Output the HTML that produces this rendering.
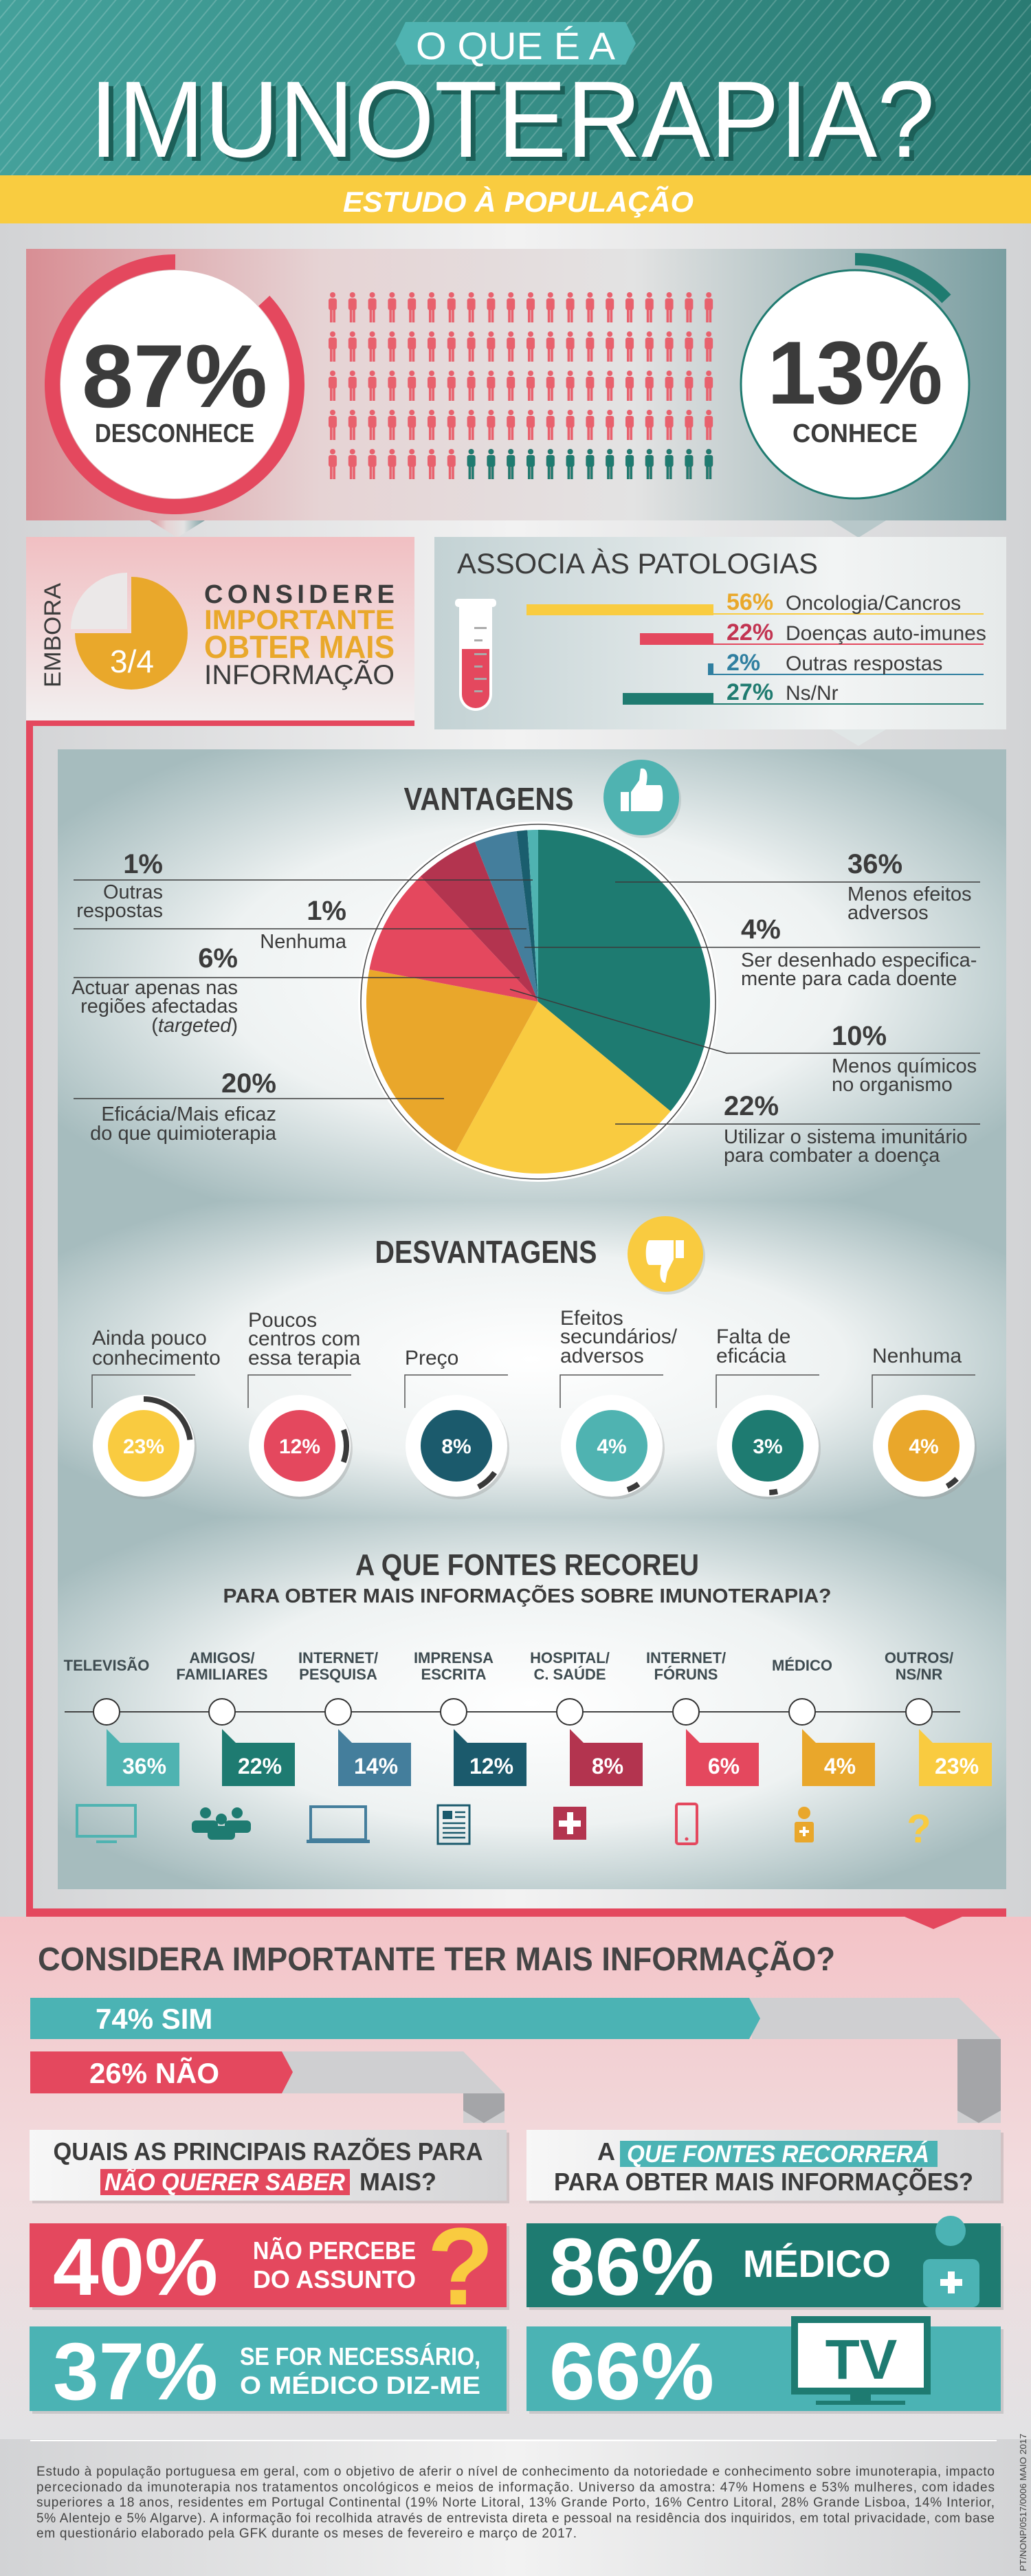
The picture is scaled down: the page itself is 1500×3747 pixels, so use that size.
<!DOCTYPE html>
<html><head><meta charset="utf-8"><style>
html,body{margin:0;padding:0;background:#dcdcdc}
svg{display:block}
text{font-family:"Liberation Sans",sans-serif}
.n{font-family:"Liberation Sans Narrow","Liberation Sans",sans-serif}
</style></head><body>
<svg width="1500" height="3747" viewBox="0 0 1500 3747" xmlns="http://www.w3.org/2000/svg">
<defs>
<linearGradient id="bg" x1="0" y1="0" x2="1" y2="0"><stop offset="0" stop-color="#d2d3d5"/><stop offset=".5" stop-color="#f2f2f2"/><stop offset="1" stop-color="#d2d3d5"/></linearGradient>
<linearGradient id="hdr" x1="0" y1="0" x2="1" y2="0"><stop offset="0" stop-color="#44a19b"/><stop offset="1" stop-color="#2a7b73"/></linearGradient>
<pattern id="stripes" width="16" height="16" patternUnits="userSpaceOnUse" patternTransform="rotate(40)"><rect width="16" height="16" fill="none"/><rect x="0" y="0" width="2" height="16" fill="#ffffff" opacity=".18"/></pattern>
<linearGradient id="p1" x1="0" y1="0" x2="1" y2="0"><stop offset="0" stop-color="#d88e94"/><stop offset=".3" stop-color="#e6d3d4"/><stop offset=".62" stop-color="#e3e3e3"/><stop offset="1" stop-color="#7a9ea1"/></linearGradient>
<linearGradient id="p2l" x1="0" y1="0" x2="0" y2="1"><stop offset="0" stop-color="#f1bfc2"/><stop offset="1" stop-color="#f2f0f0"/></linearGradient>
<linearGradient id="p2r" x1="0" y1="0" x2="1" y2="0"><stop offset="0" stop-color="#c3d2d4"/><stop offset=".7" stop-color="#f2f4f4"/><stop offset="1" stop-color="#e6eaea"/></linearGradient>
<radialGradient id="rg" cx=".5" cy=".5" r=".6"><stop offset="0" stop-color="#ffffff"/><stop offset=".55" stop-color="#eef2f2"/><stop offset="1" stop-color="#a6bcbe"/></radialGradient>
<linearGradient id="pinkbot" x1="0" y1="0" x2="0" y2="1"><stop offset="0" stop-color="#f3c3c7"/><stop offset=".5" stop-color="#f2dcde"/><stop offset="1" stop-color="#e2e2e4"/></linearGradient>
<linearGradient id="qbox" x1="0" y1="0" x2="1" y2="0"><stop offset="0" stop-color="#f7f7f7"/><stop offset="1" stop-color="#d4d4d6"/></linearGradient>
<pattern id="ppink" x="476" y="425" width="28.8" height="57" patternUnits="userSpaceOnUse"><circle cx="8" cy="4" r="4" fill="#e8616d"/><rect x="2" y="9" width="12" height="17" rx="3" fill="#e8616d"/><rect x="4" y="22" width="3.6" height="22" fill="#e8616d"/><rect x="8.4" y="22" width="3.6" height="22" fill="#e8616d"/></pattern>
<pattern id="pteal" x="476" y="425" width="28.8" height="57" patternUnits="userSpaceOnUse"><circle cx="8" cy="4" r="4" fill="#1f7b70"/><rect x="2" y="9" width="12" height="17" rx="3" fill="#1f7b70"/><rect x="4" y="22" width="3.6" height="22" fill="#1f7b70"/><rect x="8.4" y="22" width="3.6" height="22" fill="#1f7b70"/></pattern>
</defs>

<!-- page bg -->
<rect width="1500" height="3747" fill="url(#bg)"/>

<!-- HEADER -->
<rect x="0" y="0" width="1500" height="255" fill="url(#hdr)"/>
<rect x="0" y="0" width="1500" height="255" fill="url(#stripes)"/>
<rect x="0" y="255" width="1500" height="70" fill="#f9cc40"/>
<polygon points="590,32 910,32 925,63 910,94 590,94 575,63" fill="#4fb3b1"/>
<text x="750" y="86" text-anchor="middle" font-size="56" fill="#fff" class="n" textLength="290" lengthAdjust="spacingAndGlyphs">O QUE É A</text>
<text x="137" y="234" font-size="158" fill="#1c5f58" class="n" textLength="1230" lengthAdjust="spacingAndGlyphs">IMUNOTERAPIA?</text>
<text x="130" y="228" font-size="158" fill="#fff" class="n" textLength="1230" lengthAdjust="spacingAndGlyphs">IMUNOTERAPIA?</text>
<text x="754" y="308" text-anchor="middle" font-size="42" font-style="italic" font-weight="bold" fill="#fff" textLength="510" lengthAdjust="spacingAndGlyphs">ESTUDO À POPULAÇÃO</text>

<!-- PANEL 1 -->
<rect x="38" y="362" width="1426" height="395" fill="url(#p1)"/>
<polygon points="218,757 298,757 258,782" fill="url(#p1)"/>
<polygon points="1209,757 1289,757 1249,782" fill="#b8c8ca"/>
<circle cx="254" cy="559" r="178" fill="none" stroke="#e4485e" stroke-width="22" stroke-dasharray="973 2000" transform="rotate(-43 254 559)"/>
<circle cx="254" cy="559" r="166" fill="#fff"/>
<text x="254" y="592" text-anchor="middle" font-size="130" font-weight="bold" fill="#3b3b3b" textLength="270" lengthAdjust="spacingAndGlyphs">87%</text>
<text x="254" y="643" text-anchor="middle" font-size="38" font-weight="bold" fill="#3b3b3b" class="n" textLength="232" lengthAdjust="spacingAndGlyphs">DESCONHECE</text>
<circle cx="1244" cy="559" r="166" fill="#fff" stroke="#1f7b70" stroke-width="3"/>
<circle cx="1244" cy="559" r="182" fill="none" stroke="#1f7b70" stroke-width="18" stroke-dasharray="149 2000" transform="rotate(-90 1244 559)"/>
<text x="1244" y="587" text-anchor="middle" font-size="130" font-weight="bold" fill="#3b3b3b" textLength="255" lengthAdjust="spacingAndGlyphs">13%</text>
<text x="1244" y="643" text-anchor="middle" font-size="38" font-weight="bold" fill="#3b3b3b" class="n" textLength="182" lengthAdjust="spacingAndGlyphs">CONHECE</text>
<rect x="476" y="425" width="576" height="285" fill="url(#ppink)"/>
<rect x="677.6" y="653" width="374.4" height="57" fill="#e1e1e1" opacity="0"/>
<rect x="677.6" y="653" width="374.4" height="57" fill="url(#pteal)"/>

<!-- PANEL 2 LEFT -->
<rect x="38" y="781" width="565" height="270" fill="url(#p2l)"/>
<rect x="38" y="1048" width="565" height="8" fill="#e4485e"/>
<rect x="38" y="1048" width="10" height="1740" fill="#e4485e"/>
<text transform="translate(88 1000) rotate(-90)" font-size="34" fill="#3b3b3b" class="n" textLength="152" lengthAdjust="spacingAndGlyphs">EMBORA</text>
<path d="M191,921 L191,839 A82,82 0 1,1 109,921 Z" fill="#e9a82b"/>
<path d="M185,915 L103,915 A82,82 0 0,1 185,833 Z" fill="#ebe8e8"/>
<text x="192" y="978" text-anchor="middle" font-size="46" fill="#fff" class="n">3/4</text>
<text x="297" y="877" font-size="38" font-weight="bold" fill="#3b3b3b" textLength="277" lengthAdjust="spacing">CONSIDERE</text>
<text x="297" y="915" font-size="40" font-weight="bold" fill="#e9a82b" class="n" textLength="277" lengthAdjust="spacingAndGlyphs">IMPORTANTE</text>
<text x="297" y="957" font-size="46" font-weight="bold" fill="#e9a82b" class="n" textLength="277" lengthAdjust="spacingAndGlyphs">OBTER MAIS</text>
<text x="297" y="995" font-size="40" fill="#3b3b3b" class="n" textLength="277" lengthAdjust="spacingAndGlyphs">INFORMAÇÃO</text>

<!-- PANEL 2 RIGHT -->
<rect x="632" y="781" width="832" height="280" fill="url(#p2r)"/>
<polygon points="1209,1061 1289,1061 1249,1085" fill="#e0e6e6"/>
<text x="665" y="834" font-size="42" fill="#3b3b3b" class="n" textLength="525" lengthAdjust="spacingAndGlyphs">ASSOCIA ÀS PATOLOGIAS</text>
<rect x="662" y="871" width="60" height="12" rx="5" fill="#fff"/>
<path d="M668,880 L716,880 L716,1010 A24,24 0 0 1 668,1010 Z" fill="#fff"/>
<path d="M672,944 L712,944 L712,1010 A20,20 0 0 1 672,1010 Z" fill="#e4485e"/>
<g fill="#aaa"><rect x="690" y="912" width="18" height="3"/><rect x="690" y="930" width="12" height="3"/><rect x="690" y="950" width="18" height="3"/><rect x="690" y="968" width="12" height="3"/><rect x="690" y="986" width="18" height="3"/><rect x="690" y="1004" width="12" height="3"/></g>
<rect x="766" y="879" width="272" height="16" fill="#f9cc40"/>
<rect x="931" y="921" width="107" height="17" fill="#e4485e"/>
<rect x="1030" y="965" width="8" height="17" fill="#2f7fa0"/>
<rect x="906" y="1008" width="132" height="17" fill="#1f7b70"/>
<g stroke-width="2"><line x1="1038" y1="893" x2="1431" y2="893" stroke="#f9cc40"/><line x1="1038" y1="937" x2="1431" y2="937" stroke="#e4485e"/><line x1="1038" y1="981" x2="1431" y2="981" stroke="#2f7fa0"/><line x1="1038" y1="1024" x2="1431" y2="1024" stroke="#1f7b70"/></g>
<g font-size="34" class="n" font-weight="bold"><text x="1057" y="887" fill="#e9a82b">56%</text><text x="1057" y="931" fill="#c23451">22%</text><text x="1057" y="975" fill="#2f7fa0">2%</text><text x="1057" y="1018" fill="#1f7b70">27%</text></g>
<g font-size="30" class="n" fill="#3b3b3b"><text x="1143" y="887">Oncologia/Cancros</text><text x="1143" y="931">Doenças auto-imunes</text><text x="1143" y="975">Outras respostas</text><text x="1143" y="1018">Ns/Nr</text></g>

<!-- VANTAGENS -->
<rect x="84" y="1090" width="1380" height="657" fill="url(#rg)"/>
<text x="711" y="1178" text-anchor="middle" font-size="46" font-weight="bold" fill="#3b3b3b" class="n" textLength="247" lengthAdjust="spacingAndGlyphs">VANTAGENS</text>
<circle cx="936" cy="1164" r="55" fill="#9aa" opacity=".35"/>
<circle cx="933" cy="1160" r="55" fill="#4fb3b1"/>
<rect x="903" y="1152" width="12" height="28" fill="#fff"/>
<path d="M918,1152 L930,1135 L932,1118 C940,1116 944,1124 940,1142 L960,1142 C966,1142 966,1180 958,1180 L918,1180 Z" fill="#fff"/>
<circle cx="783" cy="1457" r="262" fill="#fff"/>
<circle cx="783" cy="1457" r="258" fill="none" stroke="#444" stroke-width="1.5"/>
<path d="M783,1457 L783,1207 A250,250 0 0 1 975.6,1616.4 Z" fill="#1e7b71"/>
<path d="M783,1457 L975.6,1616.4 A250,250 0 0 1 662.6,1676.1 Z" fill="#f9cb40"/>
<path d="M783,1457 L662.6,1676.1 A250,250 0 0 1 537.4,1410.2 Z" fill="#e9a72b"/>
<path d="M783,1457 L537.4,1410.2 A250,250 0 0 1 611.9,1274.8 Z" fill="#e4485e"/>
<path d="M783,1457 L611.9,1274.8 A250,250 0 0 1 691,1224.6 Z" fill="#b3344f"/>
<path d="M783,1457 L691,1224.6 A250,250 0 0 1 751.7,1209 Z" fill="#447e9c"/>
<path d="M783,1457 L751.7,1209 A250,250 0 0 1 767.3,1207.5 Z" fill="#1a5e6e"/>
<path d="M783,1457 L767.3,1207.5 A250,250 0 0 1 783,1207 Z" fill="#4fb3b1"/>
<g stroke="#3b3b3b" stroke-width="1.5" fill="none">
<line x1="107" y1="1280" x2="775" y2="1280"/><line x1="107" y1="1351" x2="766" y2="1351"/><line x1="107" y1="1422" x2="756" y2="1422"/><line x1="107" y1="1598" x2="646" y2="1598"/>
<line x1="895" y1="1283" x2="1426" y2="1283"/><line x1="763" y1="1378" x2="1426" y2="1378"/><polyline points="742,1439 1057,1532 1426,1532"/><line x1="895" y1="1635" x2="1426" y2="1635"/>
</g>
<g fill="#3b3b3b" class="n">
<g font-size="40" font-weight="bold" text-anchor="end"><text x="237" y="1270">1%</text><text x="504" y="1338">1%</text><text x="346" y="1407">6%</text><text x="402" y="1589">20%</text></g>
<g font-size="29" text-anchor="end"><text x="237" y="1307">Outras</text><text x="237" y="1334">respostas</text><text x="504" y="1379">Nenhuma</text><text x="346" y="1446">Actuar apenas nas</text><text x="346" y="1473">regiões afectadas</text><text x="346" y="1501">(<tspan font-style="italic">targeted</tspan>)</text><text x="402" y="1630">Eficácia/Mais eficaz</text><text x="402" y="1658">do que quimioterapia</text></g>
<g font-size="40" font-weight="bold"><text x="1233" y="1270">36%</text><text x="1078" y="1365">4%</text><text x="1210" y="1520">10%</text><text x="1053" y="1622">22%</text></g>
<g font-size="29"><text x="1233" y="1310">Menos efeitos</text><text x="1233" y="1337">adversos</text><text x="1078" y="1406">Ser desenhado especifica-</text><text x="1078" y="1433">mente para cada doente</text><text x="1210" y="1560">Menos químicos</text><text x="1210" y="1587">no organismo</text><text x="1053" y="1663">Utilizar o sistema imunitário</text><text x="1053" y="1690">para combater a doença</text></g>
</g>

<!-- DESVANTAGENS -->
<rect x="84" y="1747" width="1380" height="460" fill="url(#rg)"/>
<text x="707" y="1837" text-anchor="middle" font-size="46" font-weight="bold" fill="#3b3b3b" class="n" textLength="323" lengthAdjust="spacingAndGlyphs">DESVANTAGENS</text>
<circle cx="971" cy="1828" r="55" fill="#9aa" opacity=".35"/>
<circle cx="968" cy="1824" r="55" fill="#f9cb40"/>
<rect x="983" y="1804" width="12" height="26" fill="#fff"/>
<path d="M980,1804 L945,1804 C938,1804 938,1840 945,1840 L962,1840 C958,1856 962,1866 968,1866 L971,1850 L980,1832 Z" fill="#fff"/>
<g fill="#3b3b3b" font-size="30" class="n">
<text x="134" y="1956">Ainda pouco</text><text x="134" y="1985">conhecimento</text>
<text x="361" y="1930">Poucos</text><text x="361" y="1957">centros com</text><text x="361" y="1985">essa terapia</text>
<text x="589" y="1985">Preço</text>
<text x="815" y="1927">Efeitos</text><text x="815" y="1954">secundários/</text><text x="815" y="1982">adversos</text>
<text x="1042" y="1954">Falta de</text><text x="1042" y="1982">eficácia</text>
<text x="1269" y="1982">Nenhuma</text>
</g>
<g stroke="#555" stroke-width="1.5" fill="none">
<polyline points="134,2048 134,2000 284,2000"/><polyline points="361,2048 361,2000 511,2000"/><polyline points="589,2048 589,2000 739,2000"/><polyline points="815,2048 815,2000 965,2000"/><polyline points="1042,2048 1042,2000 1192,2000"/><polyline points="1269,2048 1269,2000 1419,2000"/>
</g>
<g>
<circle cx="212" cy="2107" r="74" fill="#999" opacity=".35"/><circle cx="209" cy="2103" r="74" fill="#fff"/><circle cx="209" cy="2103" r="52" fill="#f9cb40"/><circle cx="209" cy="2103" r="68" fill="none" stroke="#3a3a3a" stroke-width="8" stroke-dasharray="98 1000" transform="rotate(-90 209 2103)"/>
<circle cx="439" cy="2107" r="74" fill="#999" opacity=".35"/><circle cx="436" cy="2103" r="74" fill="#fff"/><circle cx="436" cy="2103" r="52" fill="#e4485e"/><circle cx="436" cy="2103" r="68" fill="none" stroke="#3a3a3a" stroke-width="8" stroke-dasharray="48 1000" transform="rotate(-20 436 2103)"/>
<circle cx="667" cy="2107" r="74" fill="#999" opacity=".35"/><circle cx="664" cy="2103" r="74" fill="#fff"/><circle cx="664" cy="2103" r="52" fill="#1b5a6c"/><circle cx="664" cy="2103" r="68" fill="none" stroke="#3a3a3a" stroke-width="8" stroke-dasharray="32 1000" transform="rotate(35 664 2103)"/>
<circle cx="893" cy="2107" r="74" fill="#999" opacity=".35"/><circle cx="890" cy="2103" r="74" fill="#fff"/><circle cx="890" cy="2103" r="52" fill="#4fb3b1"/><circle cx="890" cy="2103" r="68" fill="none" stroke="#3a3a3a" stroke-width="8" stroke-dasharray="18 1000" transform="rotate(55 890 2103)"/>
<circle cx="1120" cy="2107" r="74" fill="#999" opacity=".35"/><circle cx="1117" cy="2103" r="74" fill="#fff"/><circle cx="1117" cy="2103" r="52" fill="#1e7b71"/><circle cx="1117" cy="2103" r="68" fill="none" stroke="#3a3a3a" stroke-width="8" stroke-dasharray="12 1000" transform="rotate(78 1117 2103)"/>
<circle cx="1347" cy="2107" r="74" fill="#999" opacity=".35"/><circle cx="1344" cy="2103" r="74" fill="#fff"/><circle cx="1344" cy="2103" r="52" fill="#e9a72b"/><circle cx="1344" cy="2103" r="68" fill="none" stroke="#3a3a3a" stroke-width="8" stroke-dasharray="18 1000" transform="rotate(45 1344 2103)"/>
</g>
<g fill="#fff" font-size="30" font-weight="bold" text-anchor="middle" class="n"><text x="209" y="2114">23%</text><text x="436" y="2114">12%</text><text x="664" y="2114">8%</text><text x="890" y="2114">4%</text><text x="1117" y="2114">3%</text><text x="1344" y="2114">4%</text></g>

<!-- FONTES -->
<rect x="84" y="2207" width="1380" height="541" fill="url(#rg)"/>
<text x="767" y="2291" text-anchor="middle" font-size="44" font-weight="bold" fill="#3b3b3b" textLength="500" lengthAdjust="spacingAndGlyphs">A QUE FONTES RECOREU</text>
<text x="767" y="2331" text-anchor="middle" font-size="29" font-weight="bold" fill="#3b3b3b" textLength="885" lengthAdjust="spacingAndGlyphs">PARA OBTER MAIS INFORMAÇÕES SOBRE IMUNOTERAPIA?</text>
<g fill="#3e4b50" font-size="22" font-weight="bold" text-anchor="middle">
<text x="155" y="2430">TELEVISÃO</text>
<text x="323" y="2419">AMIGOS/</text><text x="323" y="2443">FAMILIARES</text>
<text x="492" y="2419">INTERNET/</text><text x="492" y="2443">PESQUISA</text>
<text x="660" y="2419">IMPRENSA</text><text x="660" y="2443">ESCRITA</text>
<text x="829" y="2419">HOSPITAL/</text><text x="829" y="2443">C. SAÚDE</text>
<text x="998" y="2419">INTERNET/</text><text x="998" y="2443">FÓRUNS</text>
<text x="1167" y="2430">MÉDICO</text>
<text x="1337" y="2419">OUTROS/</text><text x="1337" y="2443">NS/NR</text>
</g>
<line x1="94" y1="2490" x2="1397" y2="2490" stroke="#444" stroke-width="2"/>
<g fill="#fff" stroke="#333" stroke-width="2"><circle cx="155" cy="2490" r="19"/><circle cx="323" cy="2490" r="19"/><circle cx="492" cy="2490" r="19"/><circle cx="660" cy="2490" r="19"/><circle cx="829" cy="2490" r="19"/><circle cx="998" cy="2490" r="19"/><circle cx="1167" cy="2490" r="19"/><circle cx="1337" cy="2490" r="19"/></g>
<g>
<polygon points="155,2515 155,2598 261,2598 261,2535 175,2535" fill="#4fb3b1"/>
<polygon points="323,2515 323,2598 429,2598 429,2535 343,2535" fill="#1e7b71"/>
<polygon points="492,2515 492,2598 598,2598 598,2535 512,2535" fill="#447e9c"/>
<polygon points="660,2515 660,2598 766,2598 766,2535 680,2535" fill="#1b5a6c"/>
<polygon points="829,2515 829,2598 935,2598 935,2535 849,2535" fill="#b3344f"/>
<polygon points="998,2515 998,2598 1104,2598 1104,2535 1018,2535" fill="#e4485e"/>
<polygon points="1167,2515 1167,2598 1273,2598 1273,2535 1187,2535" fill="#e9a72b"/>
<polygon points="1337,2515 1337,2598 1443,2598 1443,2535 1357,2535" fill="#f9cb40"/>
</g>
<g fill="#fff" font-size="32" font-weight="bold" text-anchor="middle"><text x="210" y="2580">36%</text><text x="378" y="2580">22%</text><text x="547" y="2580">14%</text><text x="715" y="2580">12%</text><text x="884" y="2580">8%</text><text x="1053" y="2580">6%</text><text x="1222" y="2580">4%</text><text x="1392" y="2580">23%</text></g>
<!-- icons -->
<rect x="112" y="2626" width="85" height="45" fill="none" stroke="#4fb3b1" stroke-width="4"/><rect x="140" y="2677" width="30" height="4" fill="#4fb3b1"/>
<g fill="#1e7b71"><circle cx="299" cy="2637" r="8"/><circle cx="345" cy="2637" r="8"/><circle cx="322" cy="2646" r="8"/><rect x="279" y="2648" width="38" height="18" rx="6"/><rect x="327" y="2648" width="38" height="18" rx="6"/><rect x="302" y="2656" width="40" height="20" rx="6"/></g>
<rect x="452" y="2628" width="80" height="48" fill="none" stroke="#447e9c" stroke-width="4"/><rect x="446" y="2676" width="92" height="5" fill="#447e9c"/>
<rect x="637" y="2626" width="46" height="56" fill="none" stroke="#1b5a6c" stroke-width="3"/><rect x="644" y="2634" width="14" height="12" fill="#1b5a6c"/><g stroke="#1b5a6c" stroke-width="2.5"><line x1="662" y1="2636" x2="677" y2="2636"/><line x1="662" y1="2643" x2="677" y2="2643"/><line x1="644" y1="2652" x2="677" y2="2652"/><line x1="644" y1="2659" x2="677" y2="2659"/><line x1="644" y1="2666" x2="677" y2="2666"/><line x1="644" y1="2673" x2="677" y2="2673"/></g>
<rect x="805" y="2628" width="48" height="48" fill="#b3344f"/><rect x="825" y="2636" width="9" height="32" fill="#fff"/><rect x="813" y="2648" width="32" height="9" fill="#fff"/>
<rect x="984" y="2624" width="30" height="58" rx="3" fill="none" stroke="#e4485e" stroke-width="4"/><circle cx="999" cy="2675" r="2.5" fill="#e4485e"/>
<circle cx="1170" cy="2637" r="9" fill="#e9a72b"/><rect x="1156" y="2650" width="28" height="30" rx="3" fill="#e9a72b"/><rect x="1168" y="2657" width="4" height="14" fill="#fff"/><rect x="1163" y="2662" width="14" height="4" fill="#fff"/>
<text x="1337" y="2680" text-anchor="middle" font-size="58" font-weight="bold" fill="#f9cb40">?</text>

<!-- red bottom line -->
<polygon points="38,2776 1464,2776 1464,2788 1400,2788 1358,2806 1316,2788 38,2788" fill="#e4485e"/>

<!-- BOTTOM -->
<rect x="0" y="2788" width="1500" height="760" fill="url(#pinkbot)"/>
<polygon points="1316,2788 1400,2788 1358,2806" fill="#e4485e"/>
<text x="55" y="2866" font-size="48" font-weight="bold" fill="#444" textLength="1160" lengthAdjust="spacingAndGlyphs">CONSIDERA IMPORTANTE TER MAIS INFORMAÇÃO?</text>
<polygon points="1090,2906 1395,2906 1456,2966 1456,3088 1393,3088 1393,2966 1094,2966" fill="#cfcfd1"/>
<polygon points="1393,2966 1456,2966 1456,3070 1424,3088 1393,3070" fill="#a4a5a8"/>
<polygon points="44,2906 1090,2906 1106,2936 1090,2966 44,2966" fill="#4bb3b4"/>
<text x="139" y="2951" font-size="42" font-weight="bold" fill="#fff">74% SIM</text>
<polygon points="410,2984 674,2984 734,3045 734,3088 674,3088 674,3045 410,3045" fill="#cfcfd1"/>
<polygon points="674,3045 734,3045 734,3070 704,3088 674,3070" fill="#a4a5a8"/>
<polygon points="44,2984 410,2984 426,3014 410,3045 44,3045" fill="#e4485e"/>
<text x="130" y="3030" font-size="42" font-weight="bold" fill="#fff">26% NÃO</text>

<rect x="47" y="3102" width="694" height="103" fill="#999" opacity=".35"/>
<rect x="43" y="3098" width="694" height="103" fill="url(#qbox)"/>
<text x="390" y="3142" text-anchor="middle" font-size="36" font-weight="bold" fill="#3b3b3b" textLength="625" lengthAdjust="spacingAndGlyphs">QUAIS AS PRINCIPAIS RAZÕES PARA</text>
<rect x="146" y="3155" width="363" height="38" fill="#e4485e"/>
<text x="152" y="3186" font-size="35" font-weight="bold" font-style="italic" fill="#fff" textLength="350" lengthAdjust="spacingAndGlyphs">NÃO QUERER SABER</text>
<text x="523" y="3186" font-size="36" font-weight="bold" fill="#3b3b3b">MAIS?</text>
<rect x="770" y="3102" width="690" height="103" fill="#999" opacity=".35"/>
<rect x="766" y="3098" width="690" height="103" fill="url(#qbox)"/>
<text x="869" y="3142" font-size="36" font-weight="bold" fill="#3b3b3b">A</text>
<rect x="902" y="3114" width="462" height="38" fill="#4bb3b4"/>
<text x="912" y="3145" font-size="35" font-weight="bold" font-style="italic" fill="#fff" textLength="440" lengthAdjust="spacingAndGlyphs">QUE FONTES RECORRERÁ</text>
<text x="1111" y="3186" text-anchor="middle" font-size="36" font-weight="bold" fill="#3b3b3b" textLength="610" lengthAdjust="spacingAndGlyphs">PARA OBTER MAIS INFORMAÇÕES?</text>

<g fill="#999" opacity=".35"><rect x="47" y="3238" width="694" height="122"/><rect x="47" y="3388" width="694" height="123"/><rect x="770" y="3238" width="690" height="122"/><rect x="770" y="3388" width="690" height="123"/></g>
<rect x="43" y="3234" width="694" height="122" fill="#e4485e"/>
<rect x="43" y="3384" width="694" height="123" fill="#4bb3b4"/>
<rect x="766" y="3234" width="690" height="122" fill="#1e7b71"/>
<rect x="766" y="3384" width="690" height="123" fill="#4bb3b4"/>
<g fill="#fff" font-size="118" font-weight="bold">
<text x="77" y="3338" textLength="240" lengthAdjust="spacingAndGlyphs">40%</text>
<text x="77" y="3490" textLength="240" lengthAdjust="spacingAndGlyphs">37%</text>
<text x="799" y="3338" textLength="240" lengthAdjust="spacingAndGlyphs">86%</text>
<text x="799" y="3490" textLength="240" lengthAdjust="spacingAndGlyphs">66%</text>
</g>
<g fill="#fff" font-size="36" font-weight="bold">
<text x="368" y="3286" textLength="237" lengthAdjust="spacingAndGlyphs">NÃO PERCEBE</text>
<text x="368" y="3328" textLength="237" lengthAdjust="spacingAndGlyphs">DO  ASSUNTO</text>
<text x="349" y="3440" textLength="350" lengthAdjust="spacingAndGlyphs">SE FOR NECESSÁRIO,</text>
<text x="349" y="3482" textLength="350" lengthAdjust="spacingAndGlyphs">O  MÉDICO  DIZ-ME</text>
<text x="1081" y="3312" font-size="56" textLength="215" lengthAdjust="spacingAndGlyphs">MÉDICO</text>
</g>
<text x="670" y="3352" text-anchor="middle" font-size="160" font-weight="bold" fill="#f9cb40">?</text>
<circle cx="1383" cy="3245" r="22" fill="#4bb3b4"/>
<rect x="1343" y="3286" width="82" height="70" rx="10" fill="#4bb3b4"/>
<rect x="1379" y="3304" width="10" height="32" fill="#fff"/><rect x="1368" y="3315" width="32" height="10" fill="#fff"/>
<rect x="1156" y="3374" width="193" height="104" fill="#fff" stroke="#1e7b71" stroke-width="10"/>
<rect x="1237" y="3483" width="30" height="10" fill="#1e7b71"/><rect x="1187" y="3492" width="130" height="6" fill="#1e7b71"/>
<text x="1253" y="3460" text-anchor="middle" font-size="82" font-weight="bold" fill="#1e7b71">TV</text>

<!-- FOOTER -->
<line x1="44" y1="3550" x2="1450" y2="3550" stroke="#fff" stroke-width="2"/>
<g font-size="19" fill="#444">
<text x="53" y="3601" textLength="1394" lengthAdjust="spacing">Estudo à população portuguesa em geral, com o objetivo de aferir o nível de conhecimento da notoriedade e conhecimento sobre imunoterapia, impacto</text>
<text x="53" y="3624" textLength="1394" lengthAdjust="spacing">percecionado da imunoterapia nos tratamentos oncológicos e meios de informação. Universo da amostra: 47% Homens e 53% mulheres, com idades</text>
<text x="53" y="3646" textLength="1394" lengthAdjust="spacing">superiores a 18 anos, residentes em Portugal Continental (19% Norte Litoral, 13% Grande Porto, 16% Centro Litoral, 28% Grande Lisboa, 14% Interior,</text>
<text x="53" y="3669" textLength="1394" lengthAdjust="spacing">5% Alentejo e 5% Algarve). A informação foi recolhida através de entrevista direta e pessoal na residência dos inquiridos, em total privacidade, com base</text>
<text x="53" y="3691" textLength="786" lengthAdjust="spacing">em questionário elaborado pela GFK durante os meses de fevereiro e março de 2017.</text>
</g>
<text transform="translate(1493 3740) rotate(-90)" font-size="13" fill="#444" textLength="200" lengthAdjust="spacingAndGlyphs">PT/NONP/0517/0006 MAIO 2017</text>
</svg>
</body></html>
